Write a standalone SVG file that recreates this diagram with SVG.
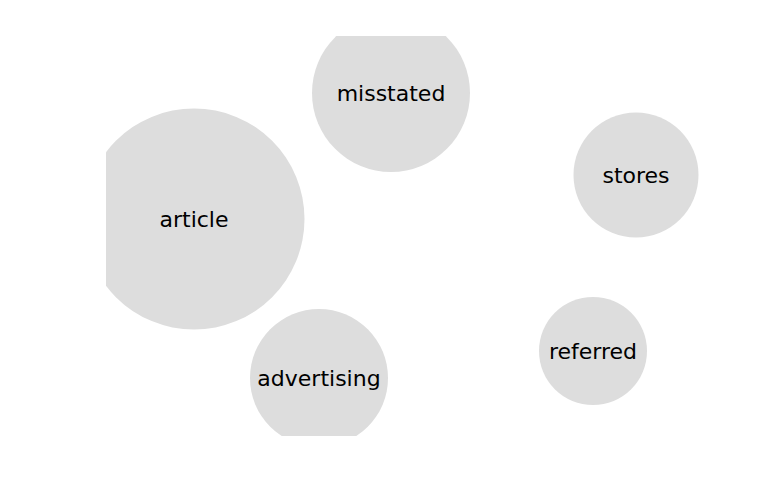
<svg xmlns="http://www.w3.org/2000/svg" width="768" height="500" viewBox="0 0 768 500">
<style>
.n circle{fill:#dddddd}
.n text{font-family:"DejaVu Sans",sans-serif;font-size:22px;fill:#000;text-anchor:middle;dominant-baseline:central}
</style>
<defs><clipPath id="c"><rect x="106" y="36" width="662" height="400"/></clipPath></defs>
<rect width="768" height="500" fill="#fff"/>
<g id="connectors"/>
<g clip-path="url(#c)">
<g id="article" class="n"><circle cx="194" cy="219" r="110.5"/><text x="194" y="219">article</text></g>
<g id="misstated" class="n"><circle cx="391" cy="93" r="79"/><text x="391" y="93">misstated</text></g>
<g id="stores" class="n"><circle cx="636" cy="175" r="62.5"/><text x="636" y="175">stores</text></g>
<g id="advertising" class="n"><circle cx="319" cy="378" r="69"/><text x="319" y="378">advertising</text></g>
<g id="referred" class="n"><circle cx="593" cy="351" r="54"/><text x="593" y="351">referred</text></g>
</g>
</svg>
